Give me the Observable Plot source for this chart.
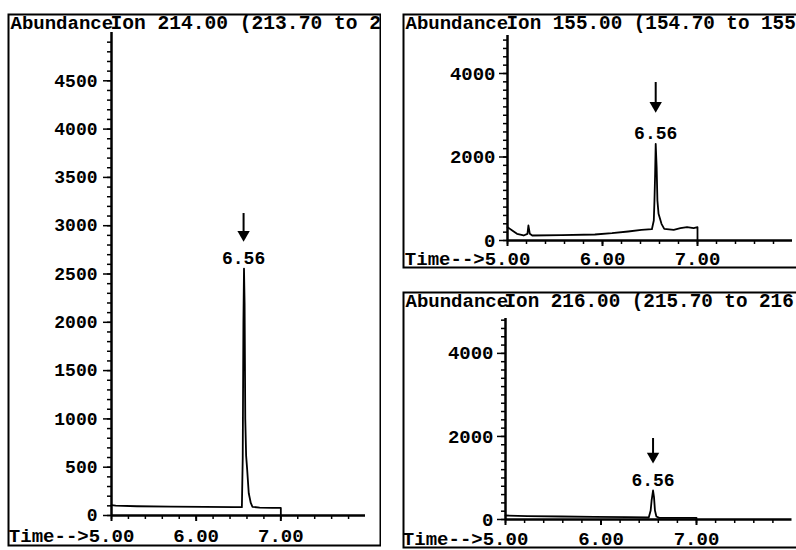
<!DOCTYPE html>
<html><head><meta charset="utf-8">
<script src="https://cdn.jsdelivr.net/npm/d3@7"></script>
<script src="https://cdn.jsdelivr.net/npm/@observablehq/plot@0.6"></script>
<style>
html,body{margin:0;padding:0;background:#fff;overflow:hidden}
#root{position:relative;width:796px;height:550px;overflow:hidden;background:#fff}
</style></head><body><div id="root"></div>
<script>
// ---- texts ----
const ionTitles = ["Ion 214.00 (213.70 to 2", "Ion 155.00 (154.70 to 155", "Ion 216.00 (215.70 to 216"];
const yLabel = "Abundance";
const xLabel = "Time-->";

// ---- series (time in min, abundance) ----
const time214 = [5.00, 5.05, 5.30, 5.70, 6.10, 6.45, 6.540, 6.550, 6.558, 6.565, 6.572, 6.580, 6.590, 6.602, 6.621, 6.645, 6.665, 6.75, 6.90, 7.00, 7.00];
const abund214 = [108, 102, 96, 92, 89, 86, 86, 600, 2000, 2556, 2200, 1000, 620, 480, 230, 130, 90, 82, 79, 78, 0];

const time155 = [5.00, 5.05, 5.10, 5.17, 5.21, 5.22, 5.235, 5.26, 5.57, 5.92, 6.10, 6.27, 6.41, 6.52, 6.540, 6.547, 6.554, 6.560, 6.570, 6.578, 6.590, 6.621, 6.65, 6.75, 6.82, 6.89, 6.96, 7.00, 7.00];
const abund155 = [319, 240, 160, 120, 160, 359, 160, 120, 128, 144, 176, 216, 255, 271, 479, 958, 1597, 2316, 1756, 958, 639, 399, 279, 255, 295, 319, 295, 319, 0];

const time216 = [5.00, 5.23, 5.58, 5.93, 6.28, 6.50, 6.52, 6.53, 6.545, 6.555, 6.565, 6.58, 6.61, 6.80, 7.00, 7.00];
const abund216 = [96, 80, 72, 64, 56, 48, 217, 458, 698, 538, 217, 72, 40, 40, 40, 0];

// ---- ticks ----
const xMajorTicks = [5, 6, 7];
const xMinorTicks = [5.0, 5.2, 5.4, 5.6, 5.8, 6.0, 6.2, 6.4, 6.6, 6.8, 7.0, 7.2, 7.4, 7.6, 7.8];
const yMajorTicks214 = [0, 500, 1000, 1500, 2000, 2500, 3000, 3500, 4000, 4500];
const yMinorTicks214 = [0,100,200,300,400,500,600,700,800,900,1000,1100,1200,1300,1400,1500,1600,1700,1800,1900,2000,2100,2200,2300,2400,2500,2600,2700,2800,2900,3000,3100,3200,3300,3400,3500,3600,3700,3800,3900,4000,4100,4200,4300,4400,4500,4600,4700,4800,4900];
const yMajorTicksRight = [0, 2000, 4000];
const yMinorTicksRight = [0,200,400,600,800,1000,1200,1400,1600,1800,2000,2200,2400,2600,2800,3000,3200,3400,3600,3800,4000,4200,4400,4600,4800];

// ---- peak annotations (per panel) ----
const peakLabels = ["6.56", "6.56", "6.56"];
const peakTimes = [6.56, 6.56, 6.545];
const arrowTop = [3126, 3784, 1950];
const arrowTip = [2908, 3233, 1522];
const labelY = [2660, 2563, 939];

const FONT = "'Liberation Mono', 'Courier New', monospace";

function panel(o) {
  const {left, top, width, height, padB, ml, mr, mt, mb, yMax, times, values, yMajor, yMinor, i, yFont, yPad, xPad, titleFont} = o;
  const data = times.map((t, k) => ({t, v: values[k]}));
  const tf = {fontFamily: FONT, fontWeight: "bold", fill: "#000"};
  return Plot.plot({
    width, height: height + padB, marginLeft: ml, marginRight: mr, marginTop: mt, marginBottom: mb + padB,
    x: {domain: [5, 8], axis: null},
    y: {domain: [0, yMax], axis: null},
    style: {position: "absolute", left: left + "px", top: top + "px", overflow: "hidden", maxWidth: "none", background: "transparent", fontFamily: FONT, fontWeight: "bold", color: "#000"},
    marks: [
      Plot.frame({stroke: "#000", strokeWidth: 2, insetLeft: -(ml - 1), insetRight: -(mr - 1), insetTop: -(mt - 1), insetBottom: -(mb - 1)}),
      Plot.axisY({ticks: yMinor, tickSize: 4, tickFormat: () => "", label: null, strokeWidth: 1.5}),
      Plot.axisY({ticks: yMajor, tickSize: 8, tickPadding: yPad, fontSize: yFont, ...tf, tickFormat: d => String(d), label: null, strokeWidth: 1.5}),
      Plot.axisX({ticks: xMinorTicks, tickSize: 4, tickFormat: () => "", label: null, strokeWidth: 1.5}),
      Plot.axisX({ticks: xMajorTicks, tickSize: 6, tickPadding: xPad, fontSize: 19, ...tf, tickFormat: d => d.toFixed(2), label: null, strokeWidth: 2}),
      Plot.text([xLabel], {x: 5, y: 0, text: d => d, textAnchor: "end", lineAnchor: "top", dx: -22.8, dy: 6 + xPad, fontSize: 19, ...tf}),
      Plot.text([yLabel], {text: d => d, frameAnchor: "top-left", textAnchor: "start", lineAnchor: "bottom", dx: 3 - ml, dy: 15 - mt, fontSize: 19, ...tf}),
      Plot.text([ionTitles[i]], {text: d => d, frameAnchor: "top-left", textAnchor: "start", lineAnchor: "bottom", dx: -1, dy: 15 - mt, fontSize: titleFont, ...tf}),
      Plot.ruleX([5], {strokeWidth: 2.5}),
      Plot.ruleY([0], {strokeWidth: 2.5}),
      Plot.line(data, {x: "t", y: "v", stroke: "#000", strokeWidth: 1.8}),
      Plot.ruleX([peakTimes[i]], {x: d => d, y1: arrowTop[i], y2: arrowTip[i], strokeWidth: 2}),
      Plot.dot([peakTimes[i]], {x: d => d, y: arrowTip[i], symbol: "triangle", rotate: 180, r: 4.6, fill: "#000", stroke: "none"}),
      Plot.text([peakLabels[i]], {x: peakTimes[i], y: labelY[i], text: d => d, lineAnchor: "middle", fontSize: 18, ...tf})
    ]
  });
}

const root = document.getElementById("root");
root.appendChild(panel({left: 7, top: 13, width: 374, height: 533, padB: 4, ml: 104, mr: 16, mt: 19, mb: 31, yMax: 5000,
  times: time214, values: abund214, yMajor: yMajorTicks214, yMinor: yMinorTicks214, i: 0, yFont: 18, yPad: 6, xPad: 6.8, titleFont: 19.6}));
root.appendChild(panel({left: 402, top: 13, width: 400, height: 255, padB: 4, ml: 105, mr: 10, mt: 22, mb: 28, yMax: 4910,
  times: time155, values: abund155, yMajor: yMajorTicksRight, yMinor: yMinorTicksRight, i: 1, yFont: 19, yPad: 4, xPad: 4.8, titleFont: 19.3}));
root.appendChild(panel({left: 402, top: 291, width: 400, height: 257, padB: 2, ml: 103, mr: 10.5, mt: 27, mb: 29, yMax: 4840,
  times: time216, values: abund216, yMajor: yMajorTicksRight, yMinor: yMinorTicksRight, i: 2, yFont: 19, yPad: 4, xPad: 5.8, titleFont: 19.3}));
</script></body></html>
